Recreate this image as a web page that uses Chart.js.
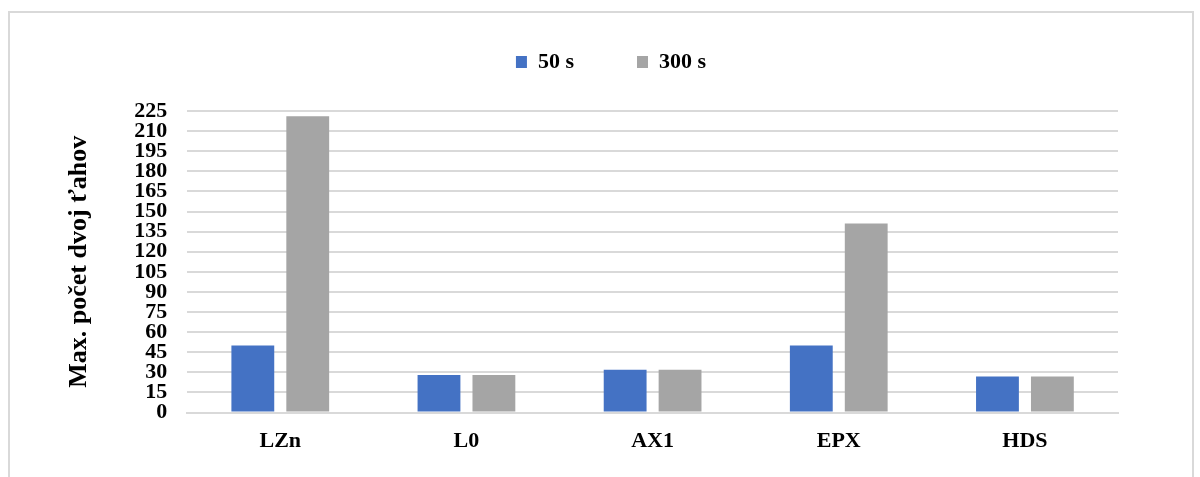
<!DOCTYPE html>
<html>
<head>
<meta charset="utf-8">
<script src="https://cdn.jsdelivr.net/npm/chart.js@4"></script>
<style>
  body { margin: 0; background: #fff; }
  #wrap { position: relative; width: 1200px; height: 477px; }
  #frame { position: absolute; left: 8px; top: 11px; width: 1186px; height: 470px; border: 2px solid #d9d9d9; box-sizing: border-box; }
  canvas { position: absolute; left: 0; top: 0; }
</style>
</head>
<body>
<div id="wrap">
  <div id="frame"></div>
  <canvas id="myChart" width="1200" height="477"></canvas>
</div>
<script>
const categories = ['LZn', 'L0', 'AX1', 'EPX', 'HDS'];
const values50 = [50, 28, 32, 50, 27];
const values300 = [221, 28, 32, 141, 27];
const seriesNames = ['50 s', '300 s'];
const yMax = 225;
const yStep = 15;

const serif = "'Liberation Serif', 'Times New Roman', serif";

// legend: keep wide item spacing but a fixed height, nudge it a bit
const legendTweak = {
  id: 'legendTweak',
  beforeInit(chart) {
    const fit = chart.legend.fit;
    chart.legend.fit = function () {
      fit.call(this);
      this.height = 111;
    };
  },
  afterLayout(chart) {
    chart.legend.top -= 12;
    chart.legend.left += 22;
    chart.legend.right += 22;
  }
};

const ctx = document.getElementById('myChart');
new Chart(ctx, {
  type: 'bar',
  data: {
    labels: categories,
    datasets: [{
      label: seriesNames[0],
      data: values50,
      backgroundColor: '#4472C4',
      categoryPercentage: 0.59,
      barPercentage: 0.78
    }, {
      label: seriesNames[1],
      data: values300,
      backgroundColor: '#A5A5A5',
      categoryPercentage: 0.59,
      barPercentage: 0.78
    }]
  },
  plugins: [legendTweak],
  options: {
    responsive: false,
    animation: false,
    layout: { padding: { left: 60, right: 82, top: 0, bottom: 14 } },
    plugins: {
      legend: {
        position: 'top',
        labels: {
          boxWidth: 11,
          boxHeight: 12,
          padding: 63,
          color: '#000',
          font: { family: serif, size: 22, weight: 'bold' }
        }
      },
      tooltip: { enabled: false }
    },
    scales: {
      x: {
        grid: { display: false },
        border: { color: '#d9d9d9', width: 2 },
        ticks: { color: '#000', padding: 8, font: { family: serif, size: 22, weight: 'bold' } }
      },
      y: {
        min: 0,
        max: yMax,
        grid: { color: '#d9d9d9', lineWidth: 2, drawTicks: false },
        border: { display: false },
        ticks: { stepSize: yStep, autoSkip: false, color: '#000', padding: 20, font: { family: serif, size: 22, weight: 'bold', lineHeight: 1 } },
        title: {
          display: true,
          text: 'Max. počet dvoj ťahov',
          color: '#000',
          padding: { top: 4, bottom: 19 },
          font: { family: serif, size: 26, weight: 'bold' }
        }
      }
    }
  }
});
</script>
</body>
</html>
